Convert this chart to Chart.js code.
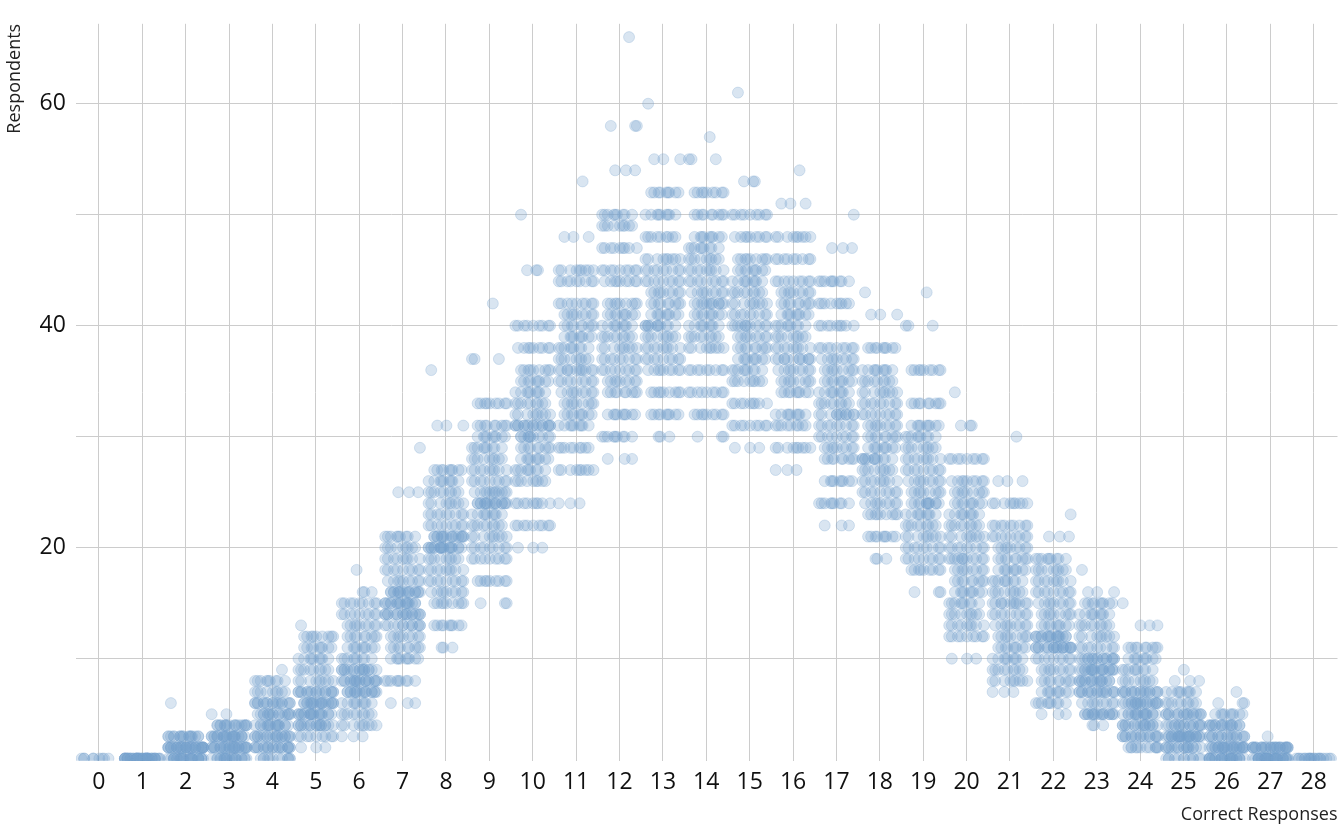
<!DOCTYPE html>
<html>
<head>
<meta charset="utf-8">
<script src="https://cdn.jsdelivr.net/npm/chart.js@4"></script>
<style>
  html, body { margin: 0; padding: 0; background: #fff; }
  #wrap { width: 1344px; height: 830px; }
</style>
</head>
<body>
<div id="wrap"><canvas id="c"></canvas></div>
<script>
// respondent counts read per number of correct responses (0..28)
const categories = [0,1,2,3,4,5,6,7,8,9,10,11,12,13,14,15,16,17,18,19,20,21,22,23,24,25,26,27,28];
const respondents = [
  [1,1,1],
  [1,1,1,1,1,1,1,1],
  [1,1,1,1,2,2,2,2,3,3,1,2,6],
  [1,1,1,2,2,2,3,3,3,4,4,5,1,2,5],
  [1,1,2,2,3,3,4,4,5,5,6,6,7,8,2,3,9],
  [2,3,4,4,5,5,6,6,7,7,8,9,10,11,12,13,5,6],
  [3,4,5,6,7,7,8,8,9,9,10,11,12,13,14,15,16,18,8],
  [6,8,10,11,12,13,14,14,15,15,16,16,17,18,19,20,21,25,29,13],
  [11,13,15,16,17,18,19,20,20,21,21,22,23,24,25,26,27,31,36,20],
  [15,17,19,20,21,22,23,24,24,25,26,27,28,29,30,31,33,37,42,25],
  [20,22,24,26,27,28,29,30,31,31,32,33,34,35,36,38,40,45,50,30],
  [24,27,29,31,32,33,34,35,36,37,38,39,40,41,42,44,45,48,53,36],
  [28,30,32,34,35,36,37,38,39,40,41,42,44,45,47,49,50,54,58,66],
  [30,32,34,36,37,38,39,40,41,42,43,44,45,46,48,50,52,55,60,40],
  [30,32,34,36,38,39,40,41,42,43,44,45,46,47,48,50,52,55,57,42],
  [29,31,33,35,36,37,38,39,40,41,42,43,44,45,46,48,50,53,61,40],
  [27,29,31,32,34,35,36,37,38,39,40,41,42,43,44,46,48,51,54,37],
  [22,24,26,28,29,30,31,32,33,34,35,36,37,38,40,42,44,47,50,32],
  [19,21,23,24,25,26,27,28,29,30,31,32,33,34,35,36,38,41,43,28],
  [16,18,19,20,21,22,23,24,25,26,27,28,29,30,31,33,36,40,43,24],
  [10,12,13,14,15,16,17,18,19,20,21,22,23,24,25,26,28,31,34,19],
  [7,8,9,10,11,12,13,14,15,16,17,18,19,20,21,22,24,26,30,15],
  [5,6,7,8,9,10,11,11,12,12,13,14,15,16,17,18,19,21,23,11],
  [4,5,5,6,7,7,8,8,9,9,10,10,11,12,13,14,15,16,18,9],
  [2,2,3,3,4,4,5,5,6,6,7,7,8,9,10,11,13,15,6],
  [1,1,2,2,3,3,3,4,4,5,5,6,7,8,9,3],
  [1,1,1,1,2,2,2,3,3,4,4,5,6,7,2],
  [1,1,1,1,1,2,2,2,3,1,2],
  [1,1,1,1,1]
];
const yTickLabels = [20, 40, 60];
// horizontal spread of each dot within its column (display jitter only)
const jitter = [-0.34,-0.2,-0.06,0.08,0.22,0.36,-0.27,-0.13,0.01,0.15,0.29,-0.4,0.4,-0.1,0.12];

const points = [];
categories.forEach((cat, ci) => {
  const vals = respondents[ci];
  const top = Math.max(...vals);
  vals.forEach((v, vi) => {
    // the extreme values are single outliers, the core is dense
    const copies = (v === top && vals.length > 8) ? 1 : (vi === 0 || vi >= vals.length - 3) ? 3 : 9;
    for (let k = 0; k < copies; k++) {
      const j = jitter[(vi * 7 + k * 4 + ci * 3) % jitter.length];
      points.push({ x: cat + j, y: v });
    }
  });
});

const font = "'Open Sans', 'Noto Sans', sans-serif";
new Chart(document.getElementById('c'), {
  type: 'scatter',
  data: { datasets: [{
    data: points,
    pointRadius: 5.5,
    pointHoverRadius: 5.5,
    backgroundColor: 'rgba(120,163,204,0.28)',
    borderColor: 'rgba(120,163,204,0.28)',
    borderWidth: 1
  }]},
  options: {
    responsive: true, maintainAspectRatio: false, animation: false,
    layout: { padding: { top: 0, right: 4, left: 0, bottom: 0 } },
    plugins: { legend: { display: false }, tooltip: { enabled: false } },
    scales: {
      x: {
        type: 'linear', min: -0.53, max: 28.55,
        border: { display: false },
        grid: { color: '#cccccc', drawTicks: false },
        afterBuildTicks: ax => { ax.ticks = categories.map(v => ({ value: v })); },
        ticks: { color: '#111', font: { family: font, size: 23 }, padding: 8, autoSkip: false, maxRotation: 0 },
        title: { display: true, text: 'Correct Responses', align: 'end', color: '#222', font: { family: font, size: 18 }, padding: { top: 0 } }
      },
      y: {
        min: 0.8, max: 67.2,
        border: { display: false },
        grid: { color: '#cccccc', drawTicks: false },
        afterBuildTicks: ax => { ax.ticks = [10,20,30,40,50,60].map(v => ({ value: v })); },
        ticks: { color: '#111', font: { family: font, size: 23 }, padding: 10,
          callback: v => yTickLabels.includes(v) ? String(v) : '' },
        title: { display: true, text: 'Respondents', align: 'end', color: '#222', font: { family: font, size: 18 }, padding: { bottom: 4 } }
      }
    }
  }
});
</script>
</body>
</html>
